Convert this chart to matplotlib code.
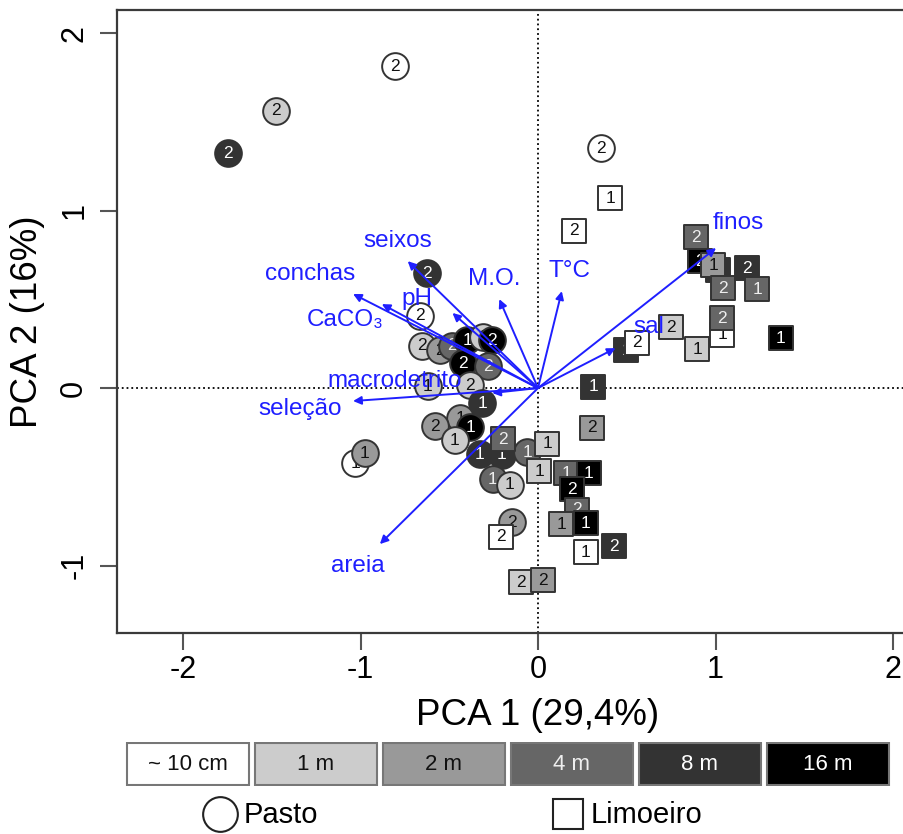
import matplotlib
matplotlib.use("Agg")
import matplotlib.pyplot as plt
from matplotlib.patches import Rectangle

plt.rcParams['font.family'] = ['Liberation Sans', 'DejaVu Sans']
plt.rcParams['axes.unicode_minus'] = False

# distance classes (fill colour of each sample)
dist_labels = ["~ 10 cm", "1 m", "2 m", "4 m", "8 m", "16 m"]
dist_fill = ["#ffffff", "#cccccc", "#999999", "#666666", "#333333", "#000000"]
dist_text = ["#111111", "#111111", "#111111", "#eeeeee", "#ffffff", "#ffffff"]

# Pasto samples (circles): PCA scores, distance class, replicate
pasto_x = [-0.806, -1.476, -1.746, 0.355, -0.625, -0.665, -0.654, -0.552, -0.485,
           -0.400, -0.310, -0.259, -0.423, -0.282, -0.383, -0.620, -0.315, -0.439,
           -0.580, -0.383, -0.468, -0.327, -0.203, -0.062, -0.254, -0.158, -1.031,
           -0.975, -0.146]
pasto_y = [1.814, 1.561, 1.324, 1.352, 0.648, 0.406, 0.237, 0.214, 0.237,
           0.270, 0.287, 0.270, 0.141, 0.124, 0.017, 0.011, -0.085, -0.169,
           -0.214, -0.220, -0.293, -0.372, -0.377, -0.361, -0.513, -0.546, -0.423,
           -0.366, -0.755]
pasto_dist = [0, 1, 4, 0, 4, 0, 1, 2, 3,
              5, 1, 5, 5, 3, 1, 1, 4, 2,
              2, 5, 1, 4, 4, 3, 3, 1, 0,
              2, 2]
pasto_rep = ["2", "2", "2", "2", "2", "2", "2", "2", "2",
             "1", "1", "2", "2", "2", "2", "1", "1", "1",
             "2", "1", "1", "1", "1", "1", "1", "1", "1",
             "1", "2"]

# Limoeiro samples (squares)
limo_x = [0.406, 0.203, 0.890, 1.014, 0.913, 0.986, 1.042, 1.177, 1.234, 1.037,
          1.037, 1.369, 0.749, 0.896, 0.496, 0.558, 0.310, 0.304, -0.197, 0.051,
          0.006, 0.158, 0.287, 0.192, 0.220, 0.130, 0.270, 0.270, 0.428, -0.208,
          -0.096, 0.028]
limo_y = [1.070, 0.885, 0.851, 0.665, 0.715, 0.693, 0.563, 0.676, 0.558, 0.299,
          0.394, 0.282, 0.344, 0.220, 0.214, 0.254, 0.006, -0.225, -0.287, -0.315,
          -0.468, -0.479, -0.479, -0.569, -0.687, -0.766, -0.761, -0.924, -0.890, -0.839,
          -1.093, -1.082]
limo_dist = [0, 0, 3, 4, 5, 2, 3, 4, 3, 0,
             3, 5, 1, 1, 4, 0, 4, 2, 3, 1,
             1, 3, 5, 5, 3, 2, 5, 0, 4, 0,
             1, 2]
limo_rep = ["1", "2", "2", "2", "2", "1", "2", "2", "1", "1",
            "2", "1", "2", "1", "1", "2", "1", "2", "2", "1",
            "1", "1", "1", "2", "2", "1", "1", "1", "2", "2",
            "2", "2"]

# environmental variables: arrow tips and label positions
var_names = ["finos", "sal", "T°C", "M.O.", "pH", "seixos", "conchas", "CaCO₃",
             "macrodetrito", "seleção", "areia"]
var_x = [1.003, 0.437, 0.134, -0.218, -0.482, -0.734, -1.042, -0.880, -0.258, -1.042, -0.891]
var_y = [0.789, 0.225, 0.546, 0.501, 0.423, 0.715, 0.530, 0.473, -0.028, -0.073, -0.879]
lab_x = [1.126, 0.622, 0.179, -0.246, -0.683, -0.790, -1.283, -1.087, -0.807, -1.339, -1.014]
lab_y = [0.930, 0.344, 0.659, 0.614, 0.501, 0.828, 0.642, 0.383, 0.039, -0.118, -1.003]

W, H = 904, 834
fig = plt.figure(figsize=(W / 100, H / 100), dpi=100)
ax = fig.add_axes([117 / W, (H - 633) / H, (W - 117) / W, (633 - 10) / H])
ax.set_xlim(-2.372, 2.062)
ax.set_ylim(-1.380, 2.130)

ax.spines['right'].set_visible(False)
for s in ['left', 'bottom', 'top']:
    ax.spines[s].set_color('#3a3a3a')
    ax.spines[s].set_linewidth(1.6)

ax.set_xticks([-2, -1, 0, 1, 2])
ax.set_yticks([-1, 0, 1, 2])
ax.tick_params(length=12, width=1.5, color='#555555', labelsize=22)
ax.tick_params(axis='x', pad=4)
ax.tick_params(axis='y', pad=8)
for t in ax.get_yticklabels():
    t.set_rotation(90)
    t.set_va('center')

ax.axhline(0, color='black', ls=':', lw=1.3, zorder=1)
ax.axvline(0, color='black', ls=':', lw=1.3, zorder=1)

z = 3
for x, y, d, r in zip(pasto_x, pasto_y, pasto_dist, pasto_rep):
    ax.scatter(x, y, s=370, marker='o', c=dist_fill[d], edgecolors='#333333',
               linewidths=1.4, zorder=z)
    ax.text(x, y, r, ha='center', va='center', fontsize=12.5, color=dist_text[d], zorder=z + 0.5)
    z += 1
for x, y, d, r in zip(limo_x, limo_y, limo_dist, limo_rep):
    ax.scatter(x, y, s=275, marker='s', c=dist_fill[d], edgecolors='#333333',
               linewidths=1.4, zorder=z)
    ax.text(x, y, r, ha='center', va='center', fontsize=12.5, color=dist_text[d], zorder=z + 0.5)
    z += 1

for name, x, y, lx, ly in zip(var_names, var_x, var_y, lab_x, lab_y):
    ax.annotate("", xy=(x, y), xytext=(0, 0),
                arrowprops=dict(arrowstyle='-|>', color='#1f1fff', lw=1.4,
                                mutation_scale=12, shrinkA=0, shrinkB=0),
                zorder=z)
    ax.text(lx, ly, name, ha='center', va='center', fontsize=17.5, color='#1f1fff', zorder=z + 1)

ax.set_xlabel("PCA 1 (29,4%)", fontsize=26.5)
ax.xaxis.set_label_coords(0.534, -0.105)
ax.set_ylabel("PCA 2 (16%)", fontsize=26.5, labelpad=10)

# distance legend bar
narrow = ['Liberation Sans Narrow', 'Liberation Sans', 'DejaVu Sans']
lax = fig.add_axes([125 / W, (H - 786) / H, (893 - 125) / W, 44 / H])
lax.set_xlim(0, 6)
lax.set_ylim(0, 1)
lax.axis('off')
for i, (lab, fc, tc) in enumerate(zip(dist_labels, dist_fill, dist_text)):
    lax.add_patch(Rectangle((i + 0.015, 0.02), 0.955, 0.96, facecolor=fc,
                            edgecolor='#777777', lw=1.5))
    lax.text(i + 0.49, 0.48, lab, ha='center', va='center', fontsize=16,
             color=tc, family=narrow)

# site legend
sax = fig.add_axes([0, 0, 1, 40 / H])
sax.set_xlim(0, W)
sax.set_ylim(0, 40)
sax.axis('off')
sax.plot(220, 20, marker='o', ms=25, mfc='white', mec='#222222', mew=1.5)
sax.text(244, 19, "Pasto", ha='left', va='center', fontsize=21, family=narrow)
sax.plot(568, 20, marker='s', ms=21, mfc='white', mec='#222222', mew=1.5)
sax.text(591, 19, "Limoeiro", ha='left', va='center', fontsize=21, family=narrow)

fig.savefig("out.png", dpi=100)
